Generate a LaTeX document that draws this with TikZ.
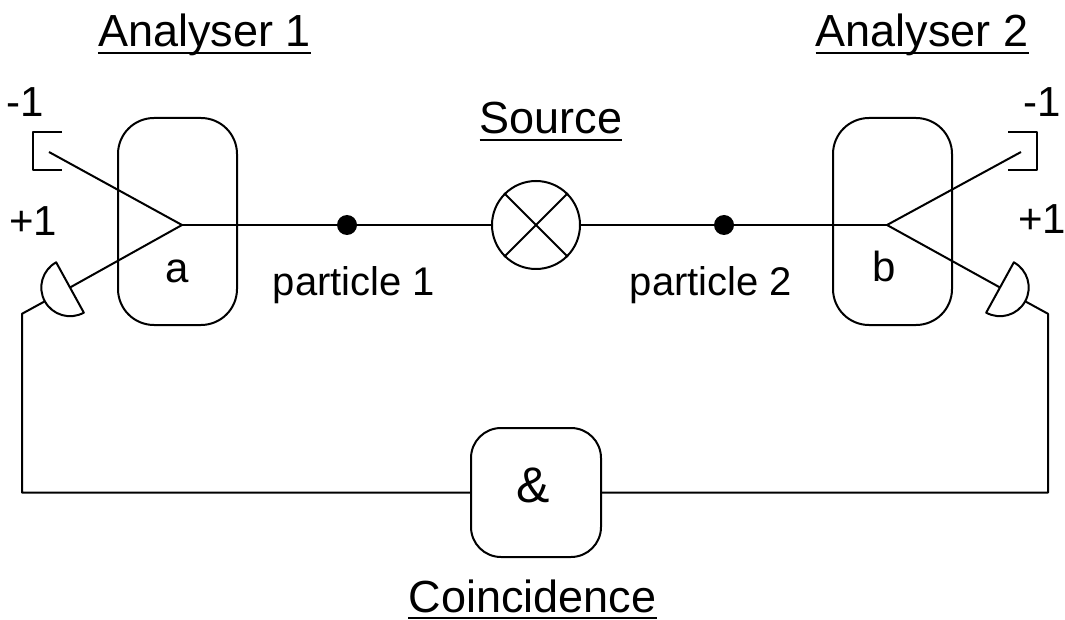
\documentclass[tikz,border=0pt]{standalone}
\usepackage{fontspec}
\setmainfont{Liberation Sans}
\begin{document}
\begin{tikzpicture}[x=1pt,y=-1pt,line join=round,
  wire/.style={line width=2pt},
  analyser/.style={draw,line width=2pt,rounded corners=36pt,minimum width=119pt,minimum height=207pt,inner sep=0pt},
  andbox/.style={draw,line width=2pt,rounded corners=30pt,minimum width=130pt,minimum height=129pt,inner sep=0pt},
  head/.style={font=\fontsize{45}{54}\selectfont,inner sep=0pt,anchor=base},
  lbl/.style={font=\fontsize{42}{50}\selectfont,inner sep=0pt,anchor=base},
  plbl/.style={font=\fontsize{40}{48}\selectfont,inner sep=0pt,anchor=base},
  ul/.style={line width=2.4pt},
  dot/.style={circle,fill=black,minimum size=20pt,inner sep=0pt},
  src/.style={circle,draw,line width=2pt,minimum size=88pt,inner sep=0pt}]
\useasboundingbox (0,0) rectangle (1065,620);

% boxes
\node[analyser] (A) at (177.5,221.5) {};
\node[analyser] (B) at (892.5,221.5) {};
\node[andbox] (C) at (536,492.5) {};
\node[src] (S) at (536,225) {};
\draw[wire] (S.45) -- (S.225) (S.135) -- (S.315);
\node[dot] (p1) at (347,225) {};
\node[dot] (p2) at (724,225) {};

% vertices and detector points
\coordinate (va) at (182,225);
\coordinate (vb) at (887,225);
\coordinate (ma) at (49,152);
\coordinate (mb) at (1021,152);
\coordinate (da) at (70,287.5);
\coordinate (db) at (1000,287.5);
\coordinate (ea) at (44.8,301.3);
\coordinate (eb) at (1025.2,301.3);
\coordinate (ka) at (22,313.8);
\coordinate (kb) at (1048,313.8);

% beam lines
\draw[wire] (va) -- (S.west);
\draw[wire] (S.east) -- (vb);
\draw[wire] (va) -- (ma);
\draw[wire] (va) -- (da);
\draw[wire] (vb) -- (mb);
\draw[wire] (vb) -- (db);

% -1 brackets
\draw[wire] (62,132) -- (33,132) -- (33,170) -- (62,170);
\draw[wire] (1008,132) -- (1037,132) -- (1037,170) -- (1008,170);

% +1 detectors
\draw[wire] (da) ++(61.2:28.7) arc[start angle=61.2,end angle=241.2,radius=28.7] -- cycle;
\draw[wire] (db) ++(-61.2:28.7) arc[start angle=-61.2,end angle=118.8,radius=28.7] -- cycle;

% coincidence wiring
\draw[wire] (ea) -- (ka) |- (C.west);
\draw[wire] (eb) -- (kb) |- (C.east);

% labels
\node[head] (t1) at (204.5,47) {Analyser 1};
\node[head] (t2) at (922,47) {Analyser 2};
\node[head] (t3) at (551,134) {Source};
\node[head] (t4) at (532.5,612) {Coincidence};
\foreach \n in {t1,t2,t3,t4}
  \draw[ul] ([yshift=-6pt]\n.base west) -- ([yshift=-6pt]\n.base east);

\node[lbl] (m1) at (25,117) {-1};
\node[lbl] (m2) at (1042,117) {-1};
\node[lbl] (q1) at (33,236) {+1};
\node[lbl] (q2) at (1042,234) {+1};
\node[lbl] (la) at (177.5,283) {a};
\node[lbl] (lb) at (884,281) {b};
\node[plbl] (pl1) at (354,295) {particle 1};
\node[plbl] (pl2) at (711,295) {particle 2};
\node[font=\fontsize{50}{60}\selectfont,inner sep=0pt,anchor=base] (amp) at (533,502) {\&};
\end{tikzpicture}
\end{document}
